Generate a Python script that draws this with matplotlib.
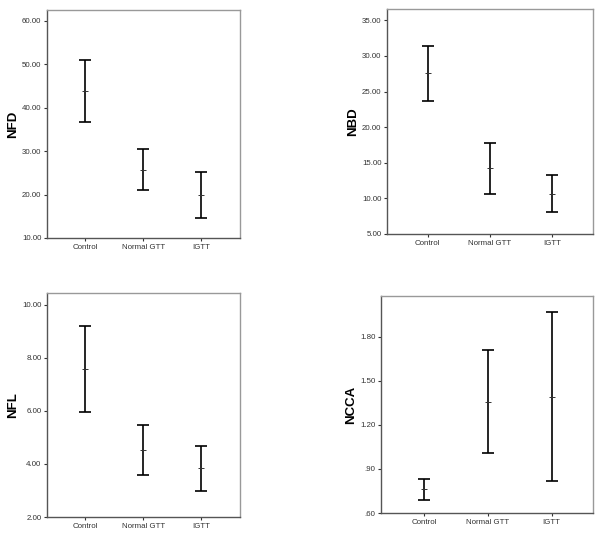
import matplotlib
matplotlib.use("Agg")
import matplotlib.pyplot as plt
from matplotlib.ticker import FuncFormatter

plt.rcParams['font.family'] = ['Liberation Sans', 'DejaVu Sans']

categories = ["Control", "Normal GTT", "IGTT"]

nfd_mean = [43.9, 25.7, 19.85]
nfd_low = [36.7, 21.0, 14.6]
nfd_high = [50.9, 30.5, 25.1]

nbd_mean = [27.56, 14.22, 10.62]
nbd_low = [23.68, 10.67, 8.1]
nbd_high = [31.4, 17.73, 13.24]

nfl_mean = [7.58, 4.51, 3.83]
nfl_low = [5.97, 3.58, 2.98]
nfl_high = [9.18, 5.48, 4.69]

ncca_mean = [0.761, 1.356, 1.39]
ncca_low = [0.691, 1.005, 0.815]
ncca_high = [0.831, 1.709, 1.965]

panels = [
    dict(label="NFD", mean=nfd_mean, low=nfd_low, high=nfd_high,
         ticks=[10, 20, 30, 40, 50, 60], ylim=(10, 62.5),
         box=(47, 238, 240, 10), xlim=(0.34, 3.67)),
    dict(label="NBD", mean=nbd_mean, low=nbd_low, high=nbd_high,
         ticks=[5, 10, 15, 20, 25, 30, 35], ylim=(5, 36.6),
         box=(387, 234, 593, 9), xlim=(0.345, 3.666)),
    dict(label="NFL", mean=nfl_mean, low=nfl_low, high=nfl_high,
         ticks=[2, 4, 6, 8, 10], ylim=(2, 10.44),
         box=(47, 517, 240, 293), xlim=(0.34, 3.67)),
    dict(label="NCCA", mean=ncca_mean, low=ncca_low, high=ncca_high,
         ticks=[0.6, 0.9, 1.2, 1.5, 1.8], ylim=(0.6, 2.076),
         box=(381, 513, 593, 296), xlim=(0.326, 3.65)),
]

W, H = 604, 539
fig = plt.figure(figsize=(W / 100, H / 100), dpi=100)


def fmt(v, pos):
    s = f"{v:.2f}"
    if s.startswith("0."):
        s = s[1:]
    return s


for p in panels:
    l, b, r, t = p["box"]
    ax = fig.add_axes([l / W, 1 - b / H, (r - l) / W, (b - t) / H])
    x = [1, 2, 3]
    yerr = [[m - lo for m, lo in zip(p["mean"], p["low"])],
            [hi - m for m, hi in zip(p["mean"], p["high"])]]
    ax.errorbar(x, p["mean"], yerr=yerr, fmt="none", ecolor="black",
                elinewidth=1.2, capsize=4.6, capthick=1.2)
    ax.plot(x, p["mean"], linestyle="none", marker="_", markersize=5,
            markeredgewidth=0.7, color="#333333")
    ax.set_xlim(*p["xlim"])
    ax.set_ylim(*p["ylim"])
    ax.set_yticks(p["ticks"])
    ax.yaxis.set_major_formatter(FuncFormatter(fmt))
    ax.set_xticks(x)
    ax.set_xticklabels(categories)
    ax.tick_params(axis="both", labelsize=5.7, length=2.5, width=0.8,
                   colors="#333333", pad=1.5)
    ax.set_ylabel(p["label"], fontsize=9.5, fontweight="bold", labelpad=2)
    for side in ["left", "bottom"]:
        ax.spines[side].set_color("#555555")
        ax.spines[side].set_linewidth(1.0)
    for side in ["top", "right"]:
        ax.spines[side].set_color("#999999")
        ax.spines[side].set_linewidth(1.0)

fig.savefig("out.png", dpi=100)
